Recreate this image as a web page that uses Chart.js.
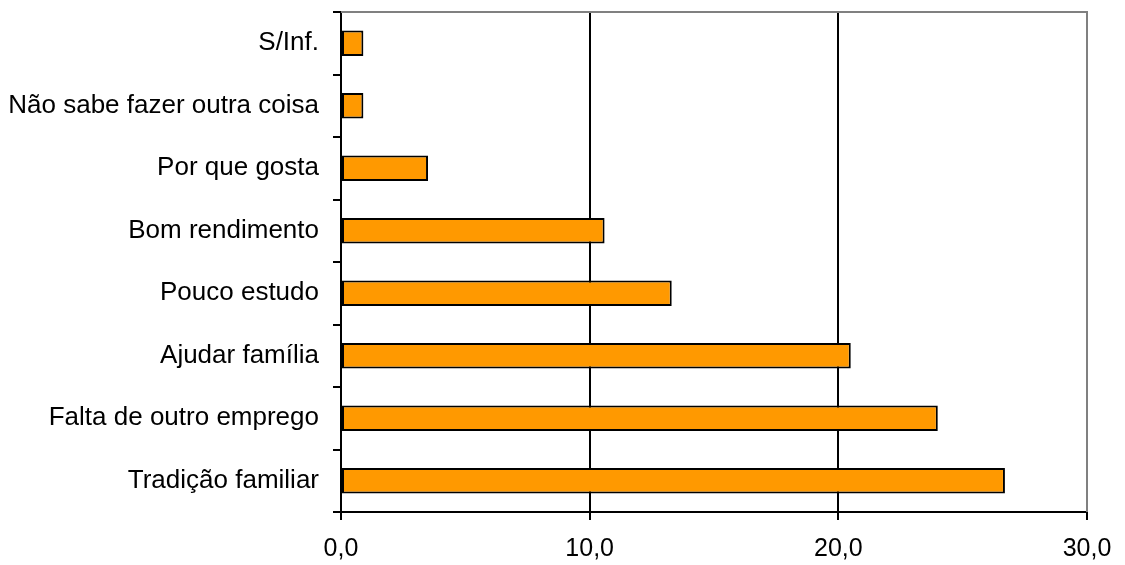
<!DOCTYPE html>
<html>
<head>
<meta charset="utf-8">
<script src="https://cdn.jsdelivr.net/npm/chart.js@4"></script>
<style>
  html, body { margin: 0; padding: 0; background: #fff; }
  #wrap { width: 1125px; height: 565px; position: relative; }
</style>
</head>
<body>
<div id="wrap"><canvas id="chart"></canvas></div>
<script>
// categories, top to bottom as drawn
const categories = [
  'S/Inf.',
  'Não sabe fazer outra coisa',
  'Por que gosta',
  'Bom rendimento',
  'Pouco estudo',
  'Ajudar família',
  'Falta de outro emprego',
  'Tradição familiar'
]
const percentages = [0.9, 0.9, 3.5, 10.6, 13.3, 20.5, 24.0, 26.7]
const xTicks = [0, 10, 20, 30]

const FAMILY = '"Liberation Sans", Arial, sans-serif'

// Grey frame on the top and right side of the plot area
const frame = {
  id: 'frame',
  afterDatasetsDraw(chart) {
    const { ctx, chartArea: a } = chart
    ctx.save()
    ctx.strokeStyle = '#808080'
    ctx.lineWidth = 2
    ctx.beginPath()
    ctx.moveTo(a.left, a.top)
    ctx.lineTo(a.right, a.top)
    ctx.lineTo(a.right, a.bottom)
    ctx.stroke()
    ctx.restore()
  }
}

new Chart(document.getElementById('chart'), {
  type: 'bar',
  data: {
    labels: categories,
    datasets: [{
      data: percentages,
      backgroundColor: '#FF9900',
      borderColor: '#000',
      borderWidth: 2,
      borderSkipped: false,
      barPercentage: 0.41,
      categoryPercentage: 1
    }]
  },
  options: {
    indexAxis: 'y',
    responsive: true,
    maintainAspectRatio: false,
    animation: false,
    layout: { padding: { top: 12, right: 38, left: 0, bottom: 0 } },
    plugins: { legend: { display: false }, tooltip: { enabled: false } },
    scales: {
      x: {
        min: 0,
        max: 30,
        afterBuildTicks: s => { s.ticks = xTicks.map(v => ({ value: v })) },
        afterFit: s => { s.height = 53; s.paddingLeft = 0; s.paddingRight = 0 },
        ticks: {
          color: '#000',
          font: { family: FAMILY, size: 25 },
          padding: 14,
          maxRotation: 0,
          callback: v => v.toFixed(1).replace('.', ',')
        },
        grid: {
          color: c => (c.tick && c.tick.value === 30 ? '#808080' : '#000'),
          tickColor: '#000',
          lineWidth: 2,
          tickLength: 8
        },
        border: { color: '#000', width: 2 }
      },
      y: {
        afterFit: s => { s.width = 341; s.paddingTop = 0; s.paddingBottom = 0 },
        ticks: { color: '#000', font: { family: FAMILY, size: 26 }, padding: 14 },
        grid: {
          drawOnChartArea: false,
          color: '#000',
          lineWidth: 2,
          tickLength: 8,
          offset: true
        },
        border: { color: '#000', width: 2 }
      }
    }
  },
  plugins: [frame]
})
</script>
</body>
</html>
